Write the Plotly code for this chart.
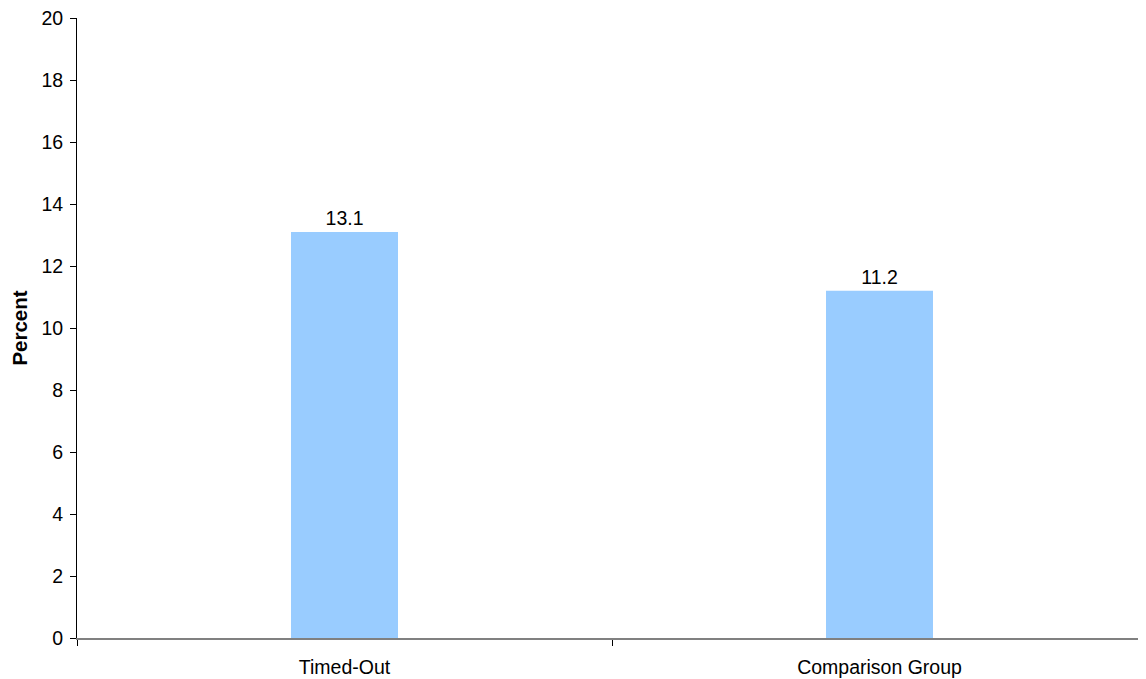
import plotly.graph_objects as go

categories = ["Timed-Out", "Comparison Group"]
values = [13.1, 11.2]
labels = ["13.1", "11.2"]

FONT = "Liberation Sans, Arial"

fig = go.Figure(go.Bar(
    x=categories, y=values, width=0.2,
    marker=dict(color="#99CCFF", line=dict(width=0)),
    text=labels, textposition="outside", cliponaxis=False,
    textfont=dict(family=FONT, size=19.5, color="black"),
))

fig.update_layout(
    width=1146, height=679,
    margin=dict(l=69, r=7, t=10, b=49, autoexpand=False),
    plot_bgcolor="white", paper_bgcolor="white",
    font=dict(family=FONT, size=19.5, color="black"),
    showlegend=False,
)
fig.update_xaxes(
    type="category", tickson="boundaries", range=[-0.5, 1.5],
    showline=True, linecolor="#808080", linewidth=2,
    ticks="outside", ticklen=6, tickcolor="black", tickwidth=1,
    showgrid=False, zeroline=False,
    tickfont=dict(size=19.5),
    ticklabelstandoff=11,
    automargin=False,
)
fig.update_yaxes(
    range=[0, 20], dtick=2, tick0=0,
    showline=True, linecolor="black", linewidth=1,
    ticks="outside", ticklen=6, tickcolor="black",
    showgrid=False, zeroline=False,
    tickfont=dict(size=19.5),
    ticklabelstandoff=3,
    ticklabeloverflow="allow",
    automargin=False,
    title=dict(text="<b>Percent</b>", font=dict(size=20.5), standoff=16),
)

fig.write_html("out.html")
